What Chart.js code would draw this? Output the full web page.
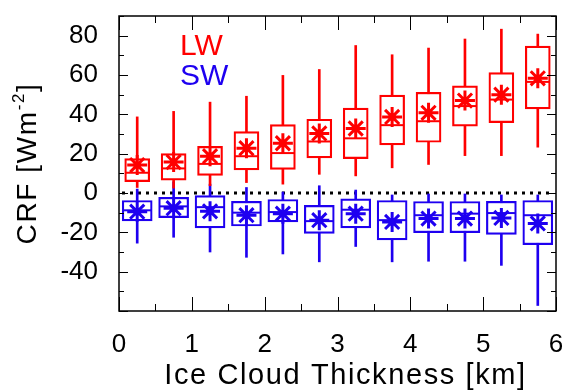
<!DOCTYPE html>
<html>
<head>
<meta charset="utf-8">
<script src="https://cdn.jsdelivr.net/npm/chart.js@4"></script>
<style>
  html, body { margin: 0; padding: 0; background: #fff; }
  canvas { display: block; }
</style>
</head>
<body>
<canvas id="c" width="572" height="391"></canvas>
<script>
// bin centres (km)
const thickness = [0.25, 0.75, 1.25, 1.75, 2.25, 2.75, 3.25, 3.75, 4.25, 4.75, 5.25, 5.75];

// LW cloud radiative forcing (W m-2)
const lwMin    = [2.8, 2.5, 3.7, 5.3, 4.5, 9.5, 8.7, 12.8, 14.5, 19, 19, 23.3];
const lwQ1     = [5.8, 6.5, 9, 11.7, 12, 17.8, 17.5, 24.5, 25.8, 34, 35.8, 42.8];
const lwMedian = [10.3, 12.5, 14.8, 18.7, 20.3, 26.2, 27.8, 34.5, 36.5, 44.2, 47.5, 56.5];
const lwQ3     = [17.5, 20, 23.7, 31.2, 34.8, 37.5, 43.2, 49.8, 51.2, 54.5, 61.2, 74.7];
const lwMax    = [38.7, 41.5, 46.2, 49.2, 59.8, 62.8, 75, 70.3, 73.7, 78.3, 83.3, 80.8];
const lwMean   = [14.2, 15.7, 18.7, 22.8, 25.3, 30.3, 32.8, 38.7, 40.8, 47, 50, 58.3];

// SW cloud radiative forcing (W m-2)
const swMin    = [-25.5, -22.5, -30, -32.7, -31, -35, -27.2, -35, -34.7, -34.7, -36.8, -57.2];
const swQ1     = [-14.2, -12.5, -17.7, -16.8, -14.7, -20.5, -17.7, -23.8, -20.2, -20.2, -21, -26.3];
const swMedian = [-8.8, -6.8, -7.2, -10, -9.7, -14.3, -8.5, -13.8, -11.3, -10.5, -10.2, -11.3];
const swQ3     = [-3.8, -2.2, -1.3, -4.2, -3.3, -6.3, -3, -3.8, -4.3, -4.3, -4.2, -3.8];
const swMax    = [2, 5.7, 4.5, 2.8, 0.5, 3.7, 1.5, -1, -0.5, -0.5, -1, -1];
const swMean   = [-9.5, -7.7, -9.3, -11.3, -10.5, -13.8, -10.5, -14.7, -13, -13, -12.7, -15.5];

const yTicks = [-40, -20, 0, 20, 40, 60, 80];
const xTicks = [0, 1, 2, 3, 4, 5, 6];

const RED = '#ff0000';
const BLUE = 'rgb(30,0,240)';
const FONT = '"Liberation Sans", Arial, Helvetica, sans-serif';

function ranges(lo, hi) {
  return thickness.map((x, i) => ({ x: x, y: [lo[i], hi[i]] }));
}
function points(vals) {
  return thickness.map((x, i) => ({ x: x, y: vals[i] }));
}

function boxSet(color, min, q1, med, q3, max, mean, width) {
  return [
    { type: 'bar', data: ranges(min, max), backgroundColor: color, borderWidth: 0,
      barThickness: 2, grouped: false, order: 4 },
    { type: 'bar', data: ranges(q1, q3), backgroundColor: '#fff', borderColor: color,
      borderWidth: 2.2, borderSkipped: false, barThickness: width, grouped: false, order: 3 },
    { type: 'scatter', data: points(med), pointStyle: 'line', pointRadius: width / 2 - 1,
      borderColor: color, pointBorderWidth: 2, order: 2 },
    { type: 'scatter', data: points(mean), pointStyle: 'star', pointRadius: 10,
      borderColor: color, pointBorderWidth: 3, order: 1 }
  ];
}

// frame, in-pointing ticks, zero line and text labels
const decor = {
  id: 'decor',
  beforeDatasetsDraw(chart) {
    const { ctx, chartArea: a, scales: { y } } = chart;
    const y0 = y.getPixelForValue(0);
    ctx.save();
    ctx.fillStyle = '#000';
    for (let px = a.left + 3; px < a.right - 2; px += 8) {
      ctx.fillRect(px, y0 - 1.5, 3, 3);
    }
    ctx.restore();
  },
  afterDraw(chart) {
    const { ctx, chartArea: a, scales: { x, y } } = chart;
    ctx.save();
    ctx.strokeStyle = '#000';
    ctx.lineWidth = 1.5;
    ctx.strokeRect(a.left, a.top, a.right - a.left, a.bottom - a.top);
    ctx.lineWidth = 1;
    ctx.beginPath();
    for (let v = x.min; v <= x.max + 1e-9; v += 0.5) {
      const px = Math.round(x.getPixelForValue(v)) + 0.5;
      const len = Number.isInteger(v) ? 14 : 7;
      ctx.moveTo(px, a.bottom); ctx.lineTo(px, a.bottom - len);
      ctx.moveTo(px, a.top); ctx.lineTo(px, a.top + len);
    }
    for (let v = y.min; v <= y.max + 1e-9; v += 10) {
      const py = Math.round(y.getPixelForValue(v)) + 0.5;
      const len = v % 20 === 0 ? 9 : 5;
      ctx.moveTo(a.left, py); ctx.lineTo(a.left + len, py);
      ctx.moveTo(a.right, py); ctx.lineTo(a.right - len, py);
    }
    ctx.stroke();

    // LW / SW labels
    ctx.font = '30px ' + FONT;
    ctx.textAlign = 'left';
    ctx.textBaseline = 'alphabetic';
    ctx.fillStyle = RED;
    ctx.fillText('LW', 180, 55);
    ctx.fillStyle = BLUE;
    ctx.fillText('SW', 180, 85);

    // axis titles (slightly spaced, like the original)
    ctx.fillStyle = '#000';
    ctx.letterSpacing = '1.6px';
    ctx.font = '29px ' + FONT;
    ctx.textAlign = 'center';
    ctx.fillText('Ice Cloud Thickness [km]', (a.left + a.right) / 2 + 8, 384);

    ctx.translate(36, (a.top + a.bottom) / 2);
    ctx.rotate(-Math.PI / 2);
    const big = '28px ' + FONT, small = '17px ' + FONT;
    ctx.font = big;
    const w1 = ctx.measureText('CRF [Wm').width;
    const w3 = ctx.measureText(']').width;
    ctx.font = small;
    const w2 = ctx.measureText('-2').width;
    let sx = -(w1 + w2 + w3) / 2;
    ctx.textAlign = 'left';
    ctx.font = big;
    ctx.fillText('CRF [Wm', sx, 0);
    ctx.font = small;
    ctx.fillText('-2', sx + w1, -12);
    ctx.font = big;
    ctx.fillText(']', sx + w1 + w2, 0);
    ctx.restore();
  }
};

new Chart(document.getElementById('c'), {
  data: {
    datasets: [
      ...boxSet(RED, lwMin, lwQ1, lwMedian, lwQ3, lwMax, lwMean, 25),
      ...boxSet(BLUE, swMin, swQ1, swMedian, swQ3, swMax, swMean, 30)
    ]
  },
  options: {
    responsive: false,
    animation: false,
    devicePixelRatio: 1,
    layout: { padding: { top: 11, right: 13, left: 0, bottom: 0 } },
    plugins: { legend: { display: false }, tooltip: { enabled: false } },
    scales: {
      x: {
        type: 'linear', min: 0, max: 6, offset: false,
        grid: { display: false, offset: false }, border: { display: false },
        afterBuildTicks: s => { s.ticks = xTicks.map(v => ({ value: v })); },
        afterFit: s => { s.height = 80; s.paddingLeft = 0; s.paddingRight = 0; },
        ticks: { color: '#000', padding: 10, maxRotation: 0, font: { size: 26, family: FONT } }
      },
      y: {
        type: 'linear', min: -60, max: 90, offset: false,
        grid: { display: false }, border: { display: false },
        afterBuildTicks: s => { s.ticks = yTicks.map(v => ({ value: v })); },
        afterFit: s => { s.width = 119; s.paddingTop = 0; s.paddingBottom = 0; },
        ticks: { color: '#000', padding: 13, font: { size: 26, family: FONT } }
      }
    }
  },
  plugins: [decor]
});
</script>
</body>
</html>
